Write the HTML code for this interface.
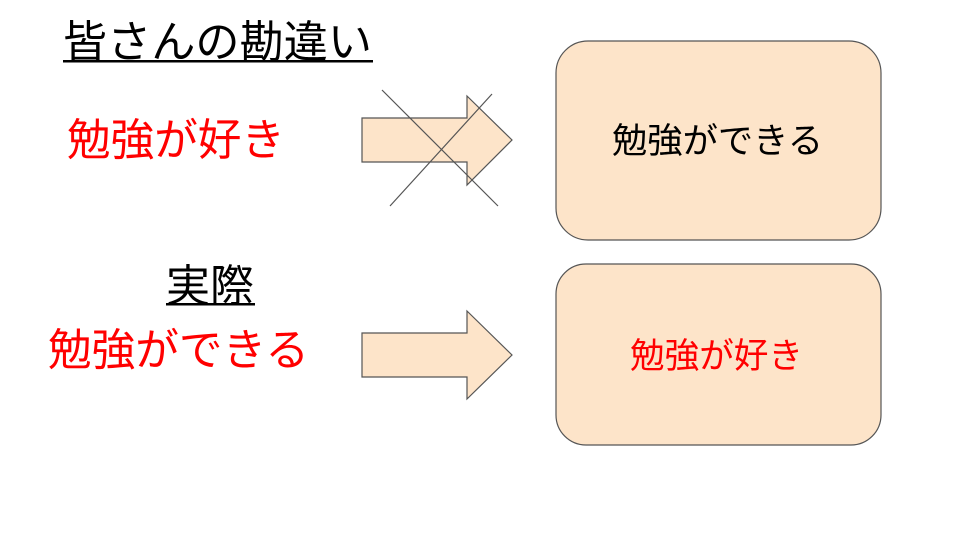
<!DOCTYPE html>
<html><head><meta charset="utf-8"><style>html,body{margin:0;padding:0;background:#fff}svg{display:block}</style></head>
<body>
<svg width="957" height="538" xmlns="http://www.w3.org/2000/svg" font-family="Liberation Sans, Noto Sans CJK JP, sans-serif">
<rect width="957" height="538" fill="#fff"/>
<text x="63" y="57" font-size="44" fill="#000" textLength="309" lengthAdjust="spacingAndGlyphs">皆さんの勘違い</text>
<rect x="63" y="60" width="310" height="2.5" fill="#000"/>
<text x="67" y="155" font-size="44" fill="#ff0000" textLength="218" lengthAdjust="spacingAndGlyphs">勉強が好き</text>
<text x="166" y="301" font-size="44" fill="#000" textLength="88" lengthAdjust="spacingAndGlyphs">実際</text>
<rect x="166" y="303" width="89" height="2.5" fill="#000"/>
<text x="48" y="365" font-size="44" fill="#ff0000" textLength="261" lengthAdjust="spacingAndGlyphs">勉強ができる</text>
<polygon points="362,118 467,118 467,96 512,140 467,185 467,162 362,162" fill="#fde4c9" stroke="#555" stroke-width="1.2"/>
<line x1="382" y1="90" x2="498" y2="206" stroke="#555" stroke-width="1.2"/>
<line x1="390" y1="206" x2="492" y2="94" stroke="#555" stroke-width="1.2"/>
<polygon points="362,333 467,333 467,311 512,355 467,399 467,377 362,377" fill="#fde4c9" stroke="#555" stroke-width="1.2"/>
<rect x="556" y="41" width="325" height="199" rx="32" fill="#fde4c9" stroke="#555" stroke-width="1.2"/>
<rect x="556" y="264" width="325" height="181" rx="30" fill="#fde4c9" stroke="#555" stroke-width="1.2"/>
<text x="612" y="153" font-size="35" fill="#000" textLength="211" lengthAdjust="spacingAndGlyphs">勉強ができる</text>
<text x="630" y="368" font-size="35" fill="#ff0000" textLength="173" lengthAdjust="spacingAndGlyphs">勉強が好き</text>
</svg>
</body></html>
